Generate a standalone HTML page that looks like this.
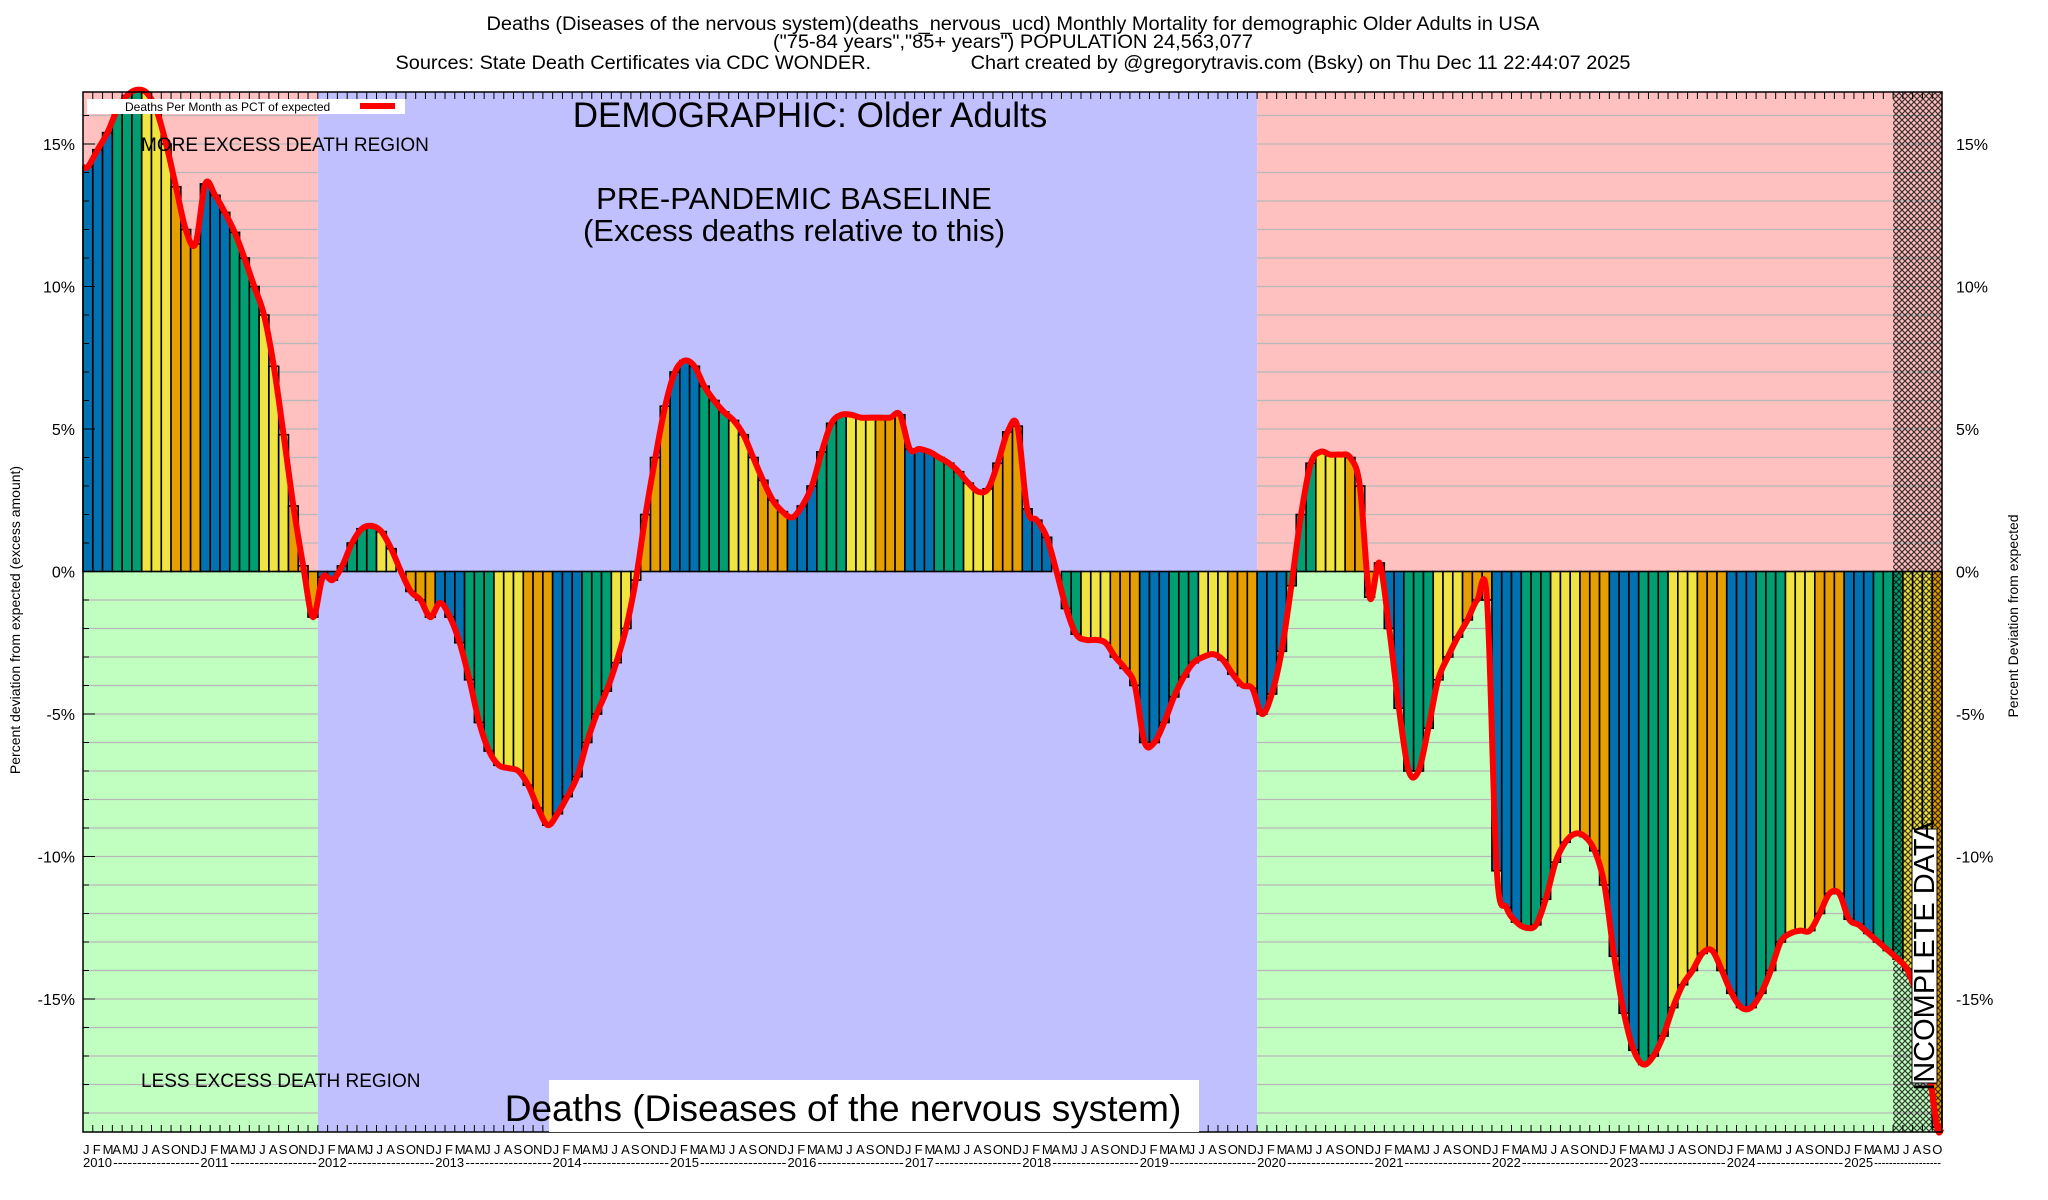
<!DOCTYPE html>
<html><head><meta charset="utf-8"><style>
body{margin:0;background:#fff}
svg{display:block;font-family:"Liberation Sans",sans-serif}
</style></head><body>
<svg id="chart" width="2048" height="1200" viewBox="0 0 2048 1200">
<defs>
<pattern id="hatch" width="6" height="6" patternUnits="userSpaceOnUse">
<path d="M0,0L6,6M6,0L0,6" stroke="#000" stroke-width="1.2" opacity="0.75"/>
</pattern>
</defs>
<g id="bg"></g><g id="grid"></g><g id="bars"></g><g id="hatchg"></g><g id="line"></g><g id="axes"></g><g id="labels"></g>
<text x="1013" y="30" text-anchor="middle" font-size="19" textLength="1053" lengthAdjust="spacingAndGlyphs">Deaths (Diseases of the nervous system)(deaths_nervous_ucd) Monthly Mortality for demographic Older Adults in USA</text>
<text x="1013" y="48" text-anchor="middle" font-size="19" textLength="480" lengthAdjust="spacingAndGlyphs">("75-84 years","85+ years") POPULATION 24,563,077</text>
<text x="1013" y="69" text-anchor="middle" font-size="19" textLength="1235" lengthAdjust="spacingAndGlyphs" xml:space="preserve">Sources: State Death Certificates via CDC WONDER.                  Chart created by @gregorytravis.com (Bsky) on Thu Dec 11 22:44:07 2025</text>
<text x="810" y="127" text-anchor="middle" font-size="35">DEMOGRAPHIC: Older Adults</text>
<text x="794" y="209" text-anchor="middle" font-size="31">PRE-PANDEMIC BASELINE</text>
<text x="794" y="241" text-anchor="middle" font-size="31">(Excess deaths relative to this)</text>
<text x="141" y="151" font-size="19">MORE EXCESS DEATH REGION</text>
<text x="141" y="1087" font-size="19">LESS EXCESS DEATH REGION</text>
<rect x="549" y="1080" width="650" height="52" fill="#fff"/>
<text x="843" y="1121" text-anchor="middle" font-size="37">Deaths (Diseases of the nervous system)</text>
<rect x="1912" y="829" width="25" height="254" fill="#fff" stroke="#000" stroke-width="1"/>
<text transform="translate(1934,956) rotate(-90)" text-anchor="middle" font-size="29">INCOMPLETE DATA</text>
<rect x="87" y="99" width="318" height="15" fill="#fff"/>
<text x="125" y="111" font-size="12">Deaths Per Month as PCT of expected</text>
<line x1="360" y1="106" x2="395" y2="106" stroke="#f00" stroke-width="6"/>
<text transform="translate(20,620) rotate(-90)" text-anchor="middle" font-size="14">Percent deviation from expected (excess amount)</text>
<text transform="translate(2018,616) rotate(-90)" text-anchor="middle" font-size="14">Percent Deviation from expected</text>
</svg>
<script>
const values2010_2025 = [
14.2,14.8,15.4,16.2,16.7,16.9,16.8,16.2,15.0,13.5,12.0,11.5,
13.6,13.2,12.6,11.9,11.0,10.0,9.0,7.2,4.8,2.3,0.2,-1.6,
-0.2,-0.3,0.2,1.0,1.5,1.6,1.4,0.8,0.0,-0.7,-1.0,-1.6,
-1.1,-1.6,-2.5,-3.8,-5.3,-6.3,-6.8,-6.9,-7.0,-7.5,-8.3,-8.9,
-8.5,-7.9,-7.2,-6.0,-5.0,-4.2,-3.2,-2.0,-0.3,2.0,4.0,5.8,
7.0,7.4,7.2,6.5,6.0,5.6,5.3,4.8,4.0,3.2,2.5,2.1,
1.9,2.3,3.0,4.2,5.2,5.5,5.5,5.4,5.4,5.4,5.4,5.5,
4.3,4.3,4.2,4.0,3.8,3.5,3.1,2.8,2.9,3.8,4.9,5.1,
2.2,1.8,1.2,0.0,-1.3,-2.2,-2.4,-2.4,-2.5,-3.0,-3.4,-4.0,
-6.0,-6.0,-5.3,-4.4,-3.7,-3.2,-3.0,-2.9,-3.1,-3.6,-4.0,-4.1,
-5.0,-4.3,-2.8,-0.5,2.0,3.8,4.2,4.1,4.1,4.0,3.0,-0.9,
0.3,-2.0,-4.8,-7.0,-7.0,-5.5,-3.8,-3.0,-2.3,-1.7,-1.0,-1.0,
-10.5,-11.8,-12.3,-12.5,-12.4,-11.5,-10.2,-9.5,-9.2,-9.3,-9.8,-11.0,
-13.5,-15.5,-16.8,-17.3,-17.0,-16.3,-15.3,-14.5,-14.0,-13.4,-13.3,-14.0,
-14.8,-15.3,-15.3,-14.8,-14.0,-13.0,-12.7,-12.6,-12.6,-12.0,-11.3,-11.3,
-12.2,-12.4,-12.7,-13.0,-13.3,-13.6,-14.0,-15.0,-17.0,-19.5];
const years = [2010,2011,2012,2013,2014,2015,2016,2017,2018,2019,2020,2021,2022,2023,2024,2025];
const monthLetters = ["J","F","M","A","M","J","J","A","S","O","N","D"];
const yTicks = [15,10,5,0,-5,-10,-15];
const baselineStartMonth = 24, baselineEndMonth = 120, incompleteStartMonth = 185;

const NS="http://www.w3.org/2000/svg";
const L=83,R=1942,T=92,B=1132,N=values2010_2025.length;
const W=(R-L)/N;
const x=i=>L+i*W;
const y=v=>571.5-v*28.5;
function mk(tag,attrs,parent){const e=document.createElementNS(NS,tag);for(const k in attrs)e.setAttribute(k,attrs[k]);document.getElementById(parent).appendChild(e);return e;}

let e;
e=mk('rect',{x:L,y:T,width:x(baselineStartMonth)-L,height:y(0)-T,fill:'#ffc0c0'},'bg');


e=mk('rect',{x:L,y:y(0),width:x(baselineStartMonth)-L,height:B-y(0),fill:'#c0ffc0'},'bg');


e=mk('rect',{x:x(baselineStartMonth),y:T,width:x(baselineEndMonth)-x(baselineStartMonth),height:B-T,fill:'#c0c0ff'},'bg');


e=mk('rect',{x:x(baselineEndMonth),y:T,width:R-x(baselineEndMonth),height:y(0)-T,fill:'#ffc0c0'},'bg');


e=mk('rect',{x:x(baselineEndMonth),y:y(0),width:R-x(baselineEndMonth),height:B-y(0),fill:'#c0ffc0'},'bg');



for(let v=-19;v<=16;v++){
  const yy=y(v);
  e=mk('line',{x1:L,x2:x(baselineStartMonth),y1:yy,y2:yy,stroke:'#b8b8b8','stroke-width':1.2},'grid');
  
  
  e=mk('line',{x1:x(baselineEndMonth),x2:R,y1:yy,y2:yy,stroke:'#b8b8b8','stroke-width':1.2},'grid');
  
  
  e=mk('line',{x1:L,x2:L+6,y1:yy,y2:yy,stroke:'#000','stroke-width':1},'axes');
  
  
}

const qColors=['#0072b2','#009e73','#f0e442','#e69f00'];
values2010_2025.forEach((v,i)=>{
  const c=qColors[Math.floor((i%12)/3)];
  const y0=y(0),y1=y(v);
  const r=mk('rect',{x:x(i),y:Math.min(y0,y1),width:W,height:Math.abs(y1-y0),fill:c,stroke:'#000','stroke-width':1.6},'bars');
  
  
});

e=mk('rect',{x:x(incompleteStartMonth),y:T,width:R-x(incompleteStartMonth),height:B-T,fill:'url(#hatch)'},'hatchg');



const pts=values2010_2025.map((v,i)=>[x(i)+W/2,y(v)]);
pts.unshift([L,pts[0][1]]);
pts.push([R,y(values2010_2025[N-1])]);
let d='M'+pts[0][0]+','+pts[0][1];
for(let i=0;i<pts.length-1;i++){
  const p0=pts[Math.max(0,i-1)],p1=pts[i],p2=pts[i+1],p3=pts[Math.min(pts.length-1,i+2)];
  const c1=[p1[0]+(p2[0]-p0[0])/6,p1[1]+(p2[1]-p0[1])/6];
  const c2=[p2[0]-(p3[0]-p1[0])/6,p2[1]-(p3[1]-p1[1])/6];
  d+=`C${c1[0]},${c1[1]} ${c2[0]},${c2[1]} ${p2[0]},${p2[1]}`;
}
e=mk('path',{d:d,fill:'none',stroke:'#f00','stroke-width':6,'stroke-linejoin':'round'},'line');



e=mk('rect',{x:L,y:T,width:R-L,height:B-T,fill:'none',stroke:'#000','stroke-width':1.5},'axes');



for(let i=0;i<N;i++){
  e=mk('line',{x1:x(i),x2:x(i),y1:B,y2:B-7,stroke:'#000','stroke-width':1},'axes');
  
  
  e=mk('line',{x1:x(i),x2:x(i),y1:T,y2:T+7,stroke:'#000','stroke-width':1},'axes');
  
  
  const t=mk('text',{x:x(i),y:1154,'font-size':13},'labels');
  t.textContent=monthLetters[i%12];
  
  
}
years.forEach((yr,k)=>{
  const xs=x(k*12);
  const t=mk('text',{x:xs,y:1167,'font-size':13},'labels');
  t.textContent=yr;
  
  
  const end=Math.min(x((k+1)*12),R);
  const ds=mk('text',{x:xs+30,y:1167,'font-size':13,textLength:Math.max(1,end-xs-31),lengthAdjust:'spacingAndGlyphs'},'labels');
  ds.textContent='-'.repeat(18);
  
  
});

yTicks.forEach(v=>{
  const a=mk('text',{x:75,y:y(v)+6,'font-size':16,'text-anchor':'end'},'labels');
  a.textContent=v+'%';
  
  
  const b=mk('text',{x:1956,y:y(v)+6,'font-size':16},'labels');
  b.textContent=v+'%';
  
  
  e=mk('line',{x1:L,x2:L+12,y1:y(v),y2:y(v),stroke:'#000','stroke-width':1},'axes');
  
  
});
</script>
</body></html>
